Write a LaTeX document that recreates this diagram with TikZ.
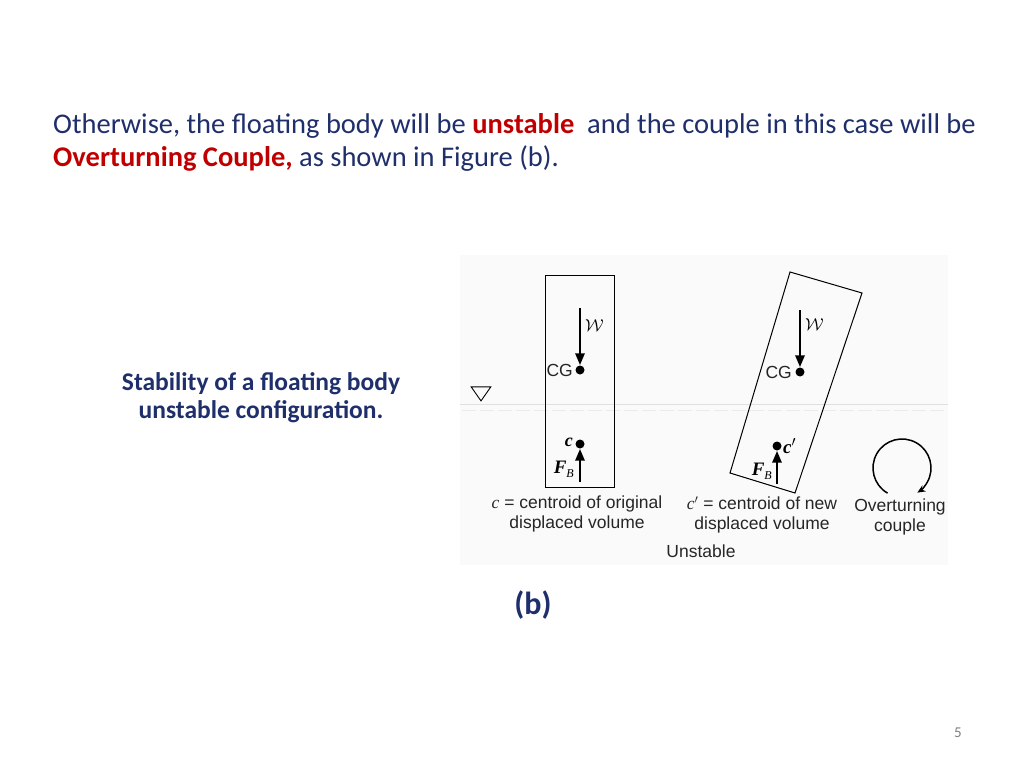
\documentclass[tikz,border=0pt]{standalone}
\usepackage{fontspec}
\setmainfont{Carlito}
\newfontfamily\figfont{Liberation Sans}
\newfontfamily\serfont{Liberation Serif}
\usetikzlibrary{arrows.meta,shapes.geometric}
\definecolor{navy}{HTML}{1F2F6B}
\definecolor{redb}{HTML}{C00000}
\tikzset{
  body/.style={draw=black, line width=1pt},
  force/.style={line width=2.8pt, -{Triangle[length=12pt,width=9pt]}},
  ctr/.style={circle, fill=black, inner sep=0pt, minimum size=9pt},
  flab/.style={font=\figfont\fontsize{17.5}{20}\selectfont, text=black!85, inner sep=1pt},
  sym/.style={font=\serfont\itshape\fontsize{19}{19}\selectfont, inner sep=1pt},
  ttl/.style={font=\fontsize{28.5}{34}\selectfont, text=navy, anchor=west, inner sep=0pt},
}
\begin{document}
\begin{tikzpicture}[x=1pt,y=-1pt]
\useasboundingbox (0,0) rectangle (1024,768);
\fill[white] (0,0) rectangle (1024,768);
\fill[black!2] (460,255) rectangle (948,565);
% title
\node[ttl] (t1) at (53,126) {Otherwise, the floating body will be \textcolor{redb}{\textbf{unstable}}\ \ and the couple in this case will be};
\node[ttl] (t2) at (53,159) {\textcolor{redb}{\textbf{Overturning Couple,}} as shown in Figure (b).};
\node[font=\bfseries\fontsize{25.5}{28}\selectfont, text=navy, align=center] (cap) at (261,398) {Stability of a floating body\\unstable configuration.};
\node[font=\bfseries\fontsize{32}{32}\selectfont, text=navy] (b) at (533,605) {(b)};
\node[font=\fontsize{15}{15}\selectfont, text=black!50] (pg) at (958,733) {5};
% water
\draw[black!12] (460,404) -- (948,404);
\draw[black!8, dashed, dash pattern=on 14pt off 4pt] (462,410) -- (946,410);
\node[draw, isosceles triangle, shape border rotate=-90, isosceles triangle apex angle=70, inner sep=0pt, minimum width=18pt, minimum height=14pt, line width=0.9pt] (tri) at (481,392) {};
% left body
\draw[body] (545,275) rectangle (614,487);
\node[ctr] (cg1) at (580,370) {};
\node[ctr] (c1) at (580,444) {};
\coordinate (w1) at (580,308);
\coordinate (fb1) at (580,482);
\draw[force] (w1) -- (cg1);
\draw[force] (fb1) -- (c1);
\node[flab, anchor=east] (cgl1) at (574,370) {CG};
\node[sym, font=\serfont\bfseries\itshape\fontsize{18}{18}\selectfont, anchor=east] (cl1) at (574,442) {c};
\node[sym, anchor=west] (wl1) at (584,326) {$\mathcal{W}$};
\node[sym, anchor=east] (fbl1) at (575,469) {\textbf{F}\raisebox{-4pt}{\fontsize{12}{12}\selectfont B}};
% right body
\draw[body] (790,272) -- (862,293) -- (795,493) -- (730,473) -- cycle;
\node[ctr] (cg2) at (800,372) {};
\node[ctr] (c2) at (777,446) {};
\coordinate (w2) at (800,310);
\coordinate (fb2) at (777,484);
\draw[force] (w2) -- (cg2);
\draw[force] (fb2) -- (c2);
\node[flab, anchor=east] (cgl2) at (793,372) {CG};
\node[sym, anchor=west] (cl2) at (782,446) {\textbf{c}$'$};
\node[sym, anchor=west] (wl2) at (804,325) {$\mathcal{W}$};
\node[sym, anchor=east] (fbl2) at (773,471) {\textbf{F}\raisebox{-4pt}{\fontsize{12}{12}\selectfont B}};
% couple
\coordinate (cc) at (902,468);
\draw[line width=1.5pt, -{Stealth[length=8pt,width=7pt]}] ([shift={(120:29)}]cc) arc[start angle=120, end angle=418, radius=29];
% labels
\node[flab, align=center] (l1) at (577,514) {{\serfont\itshape c} = centroid of original\\displaced volume};
\node[flab, align=center] (l2) at (762,515) {{\serfont\itshape c$'$} = centroid of new\\displaced volume};
\node[flab, align=center] (l3) at (900,517) {Overturning\\couple};
\node[flab] (l4) at (701,551) {Unstable};
\end{tikzpicture}
\end{document}
